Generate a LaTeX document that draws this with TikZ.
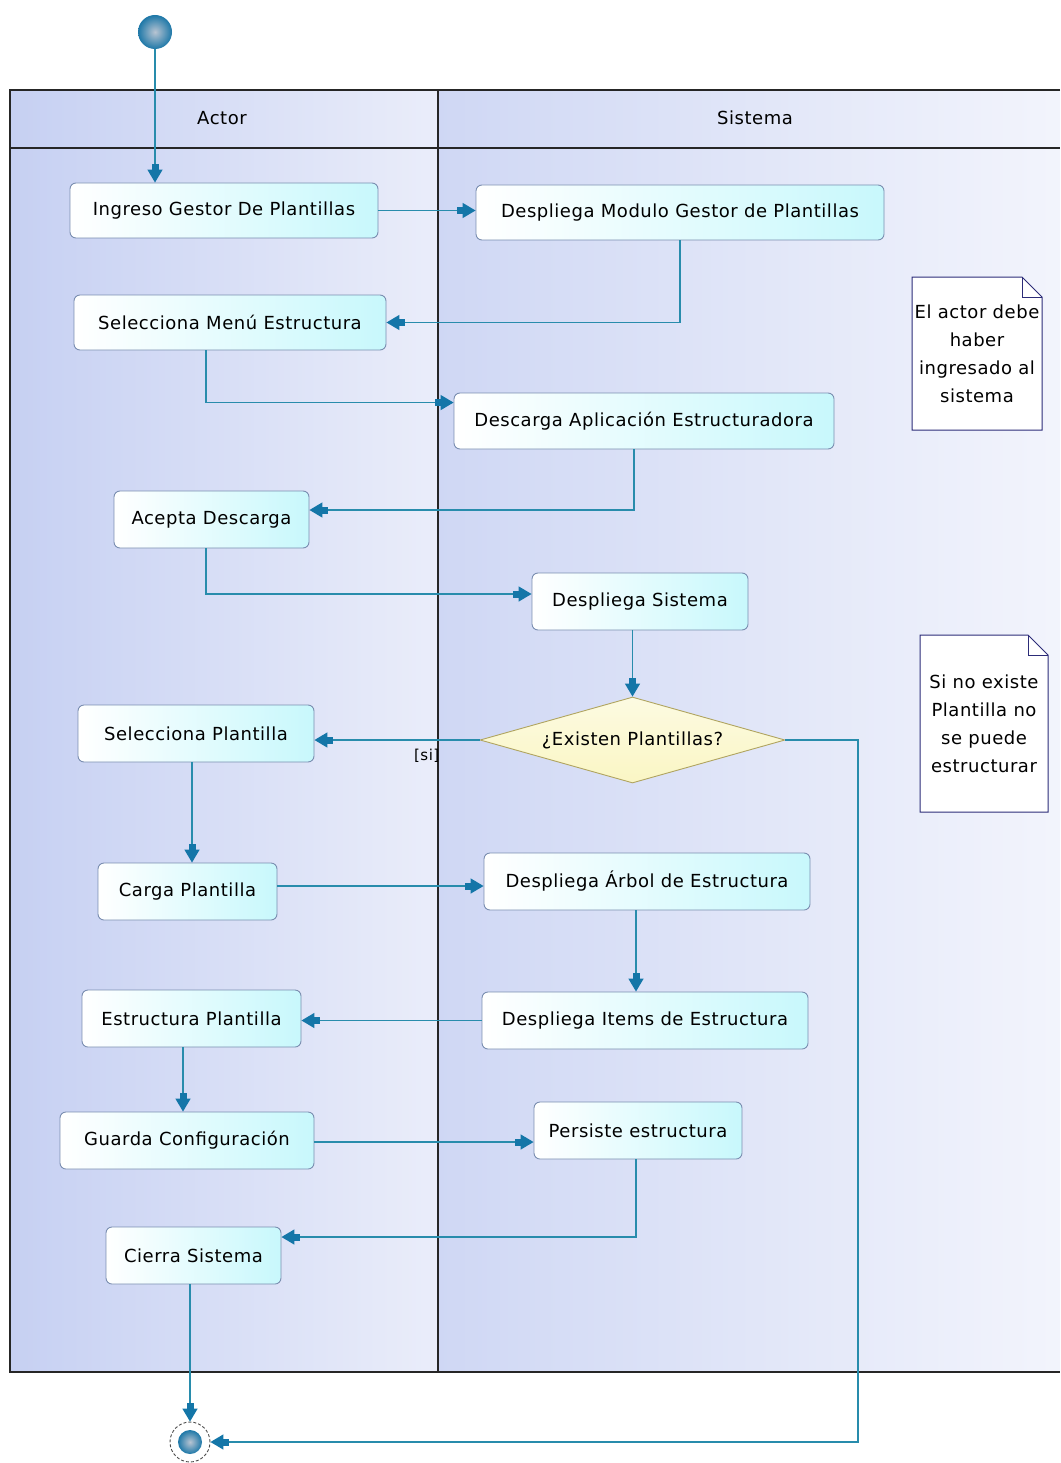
\documentclass[tikz,border=0pt]{standalone}
\usepackage{fontspec}
\setmainfont{DejaVu Sans}[LetterSpace=3]
\usetikzlibrary{arrows.meta,shapes.geometric,calc}

\definecolor{flowC}{RGB}{40,140,172}
\definecolor{tipC}{RGB}{20,118,168}
\definecolor{boxD}{RGB}{122,142,176}
\definecolor{boxR}{RGB}{200,248,252}
\definecolor{laneL}{RGB}{198,208,242}
\definecolor{laneR}{RGB}{234,237,250}
\definecolor{noteD}{RGB}{44,44,120}
\definecolor{decD}{RGB}{176,164,96}
\definecolor{decL}{RGB}{250,246,196}
\definecolor{ballIn}{RGB}{184,196,210}
\definecolor{ballOut}{RGB}{30,120,168}

\begin{document}
\begin{tikzpicture}[x=1pt,y=-1pt,
  font=\fontsize{18}{21}\selectfont,
  act/.style={draw=boxD, line width=0.9pt, rounded corners=6pt,
    left color=white, right color=boxR, inner sep=0pt},
  decision/.style={diamond, aspect=3.55, draw=decD, line width=0.9pt, inner sep=0pt,
    top color=decL!50!white, bottom color=decL},
  flow/.style={draw=flowC, line width=1.6pt,
    -{Rectangle[length=6pt,width=7pt,color=tipC]Triangle[length=13pt,width=15pt,color=tipC]}},
  notebox/.style={draw=noteD, line width=1pt, fill=white},
  notetext/.style={align=center, inner sep=0pt, font=\fontsize{18}{28}\selectfont},
  lane/.style={line width=1.5pt, draw=black!85},
  ballstyle/.style={circle, inner sep=0pt, shading=radial, inner color=ballIn, outer color=ballOut},
]
\useasboundingbox (0,0) rectangle (1060,1463);

% swimlanes
\shade[left color=laneL, right color=laneR] (10,90) rectangle (438,1372);
\shade[left color=laneL!75!laneR, right color=laneR!60!white] (438,90) rectangle (1060,1372);
\draw[lane] (1060,90) -- (10,90) -- (10,1372) -- (1060,1372);
\draw[lane] (10,148) -- (1060,148);
\draw[lane] (438,90) -- (438,1372);
\node (hactor) at (222,118) {Actor};
\node (hsist) at (755,118) {Sistema};

% start and end
\node[ballstyle, minimum size=34pt] (start) at (155,32) {};
\node[circle, draw=black!70, densely dashed, line width=0.9pt, fill=white, minimum size=40pt, inner sep=0pt] (endn) at (190,1442) {};
\node[ballstyle, minimum size=24pt] (endin) at (190,1442) {};

% actions
\node[act, minimum width=308pt, minimum height=55pt] (ingreso)  at (224,210.5)   {Ingreso Gestor De Plantillas};
\node[act, minimum width=408pt, minimum height=55pt] (modulo)   at (680,212.5)   {Despliega Modulo Gestor de Plantillas};
\node[act, minimum width=312pt, minimum height=55pt] (menu)     at (230,322.5)   {Selecciona Menú Estructura};
\node[act, minimum width=380pt, minimum height=56pt] (descarga) at (644,421)     {Descarga Aplicación Estructuradora};
\node[act, minimum width=195pt, minimum height=57pt] (acepta)   at (211.5,519.5) {Acepta Descarga};
\node[act, minimum width=216pt, minimum height=57pt] (sistema)  at (640,601.5)   {Despliega Sistema};
\node[decision, minimum width=305pt, minimum height=86pt] (dec) at (632.5,740)  {¿Existen Plantillas?};
\node[act, minimum width=236pt, minimum height=57pt] (selpl)    at (196,733.5)   {Selecciona Plantilla};
\node[act, minimum width=179pt, minimum height=57pt] (carga)    at (187.5,891.5) {Carga Plantilla};
\node[act, minimum width=326pt, minimum height=57pt] (arbol)    at (647,881.5)   {Despliega Árbol de Estructura};
\node[act, minimum width=326pt, minimum height=57pt] (items)    at (645,1020.5)  {Despliega Items de Estructura};
\node[act, minimum width=219pt, minimum height=57pt] (estr)     at (191.5,1018.5){Estructura Plantilla};
\node[act, minimum width=254pt, minimum height=57pt] (guarda)   at (187,1140.5)  {Guarda Configuración};
\node[act, minimum width=208pt, minimum height=57pt] (persiste) at (638,1130.5)  {Persiste estructura};
\node[act, minimum width=175pt, minimum height=57pt] (cierra)   at (193.5,1255.5){Cierra Sistema};

% notes with folded corner
\path (977,353.5) coordinate (n1c) (984,723.5) coordinate (n2c);
\draw[notebox] (912,277) -- (1022,277) -- (1042,297) -- (1042,430) -- (912,430) -- cycle;
\draw[notebox, fill=none] (1022,277) -- (1022,297) -- (1042,297);
\node[notetext] (note1) at (n1c) {El actor debe\\haber\\ingresado al\\sistema};
\draw[notebox] (920,635) -- (1028,635) -- (1048,655) -- (1048,812) -- (920,812) -- cycle;
\draw[notebox, fill=none] (1028,635) -- (1028,655) -- (1048,655);
\node[notetext] (note2) at (n2c) {Si no existe\\Plantilla no\\se puede\\estructurar};

% control flow
\coordinate (rt) at (858,740);
\draw[flow] (start) -- (start |- ingreso.north);
\draw[flow] (ingreso.east) -- (ingreso.east -| modulo.west);
\draw[flow] (modulo.south) |- (menu.east);
\draw[flow] ($(menu.south)+(-24,0)$) |- ($(descarga.north west)+(0,10)$);
\draw[flow] ($(descarga.south)+(-10,0)$) |- ($(acepta.east)+(0,-9.5)$);
\draw[flow] ($(acepta.south)+(-5.5,0)$) |- ($(sistema.west)+(0,-7.5)$);
\draw[flow] (sistema.south -| dec.north) -- (dec.north);
\draw[flow] (dec.west) -- node[pos=0.32, below=5pt, font=\fontsize{15}{17}\selectfont] (si) {[si]} (dec.west -| selpl.east);
\draw[flow] (dec.east) -| (rt |- endn) -- (endn);
\draw[flow] ($(selpl.south)+(-4,0)$) coordinate (t1) -- (t1 |- carga.north);
\draw[flow] ($(carga.east)+(0,-5.5)$) coordinate (t2) -- (t2 -| arbol.west);
\draw[flow] ($(arbol.south)+(-11,0)$) coordinate (t3) -- (t3 |- items.north);
\draw[flow] (items.west) -- (items.west -| estr.east);
\draw[flow] ($(estr.south)+(-8.5,0)$) coordinate (t4) -- (t4 |- guarda.north);
\draw[flow] ($(guarda.east)+(0,1.5)$) coordinate (t5) -- (t5 -| persiste.west);
\draw[flow] ($(persiste.south)+(-2,0)$) |- ($(cierra.east)+(0,-18.5)$);
\draw[flow] ($(cierra.south)+(-3.5,0)$) coordinate (t6) -- (t6 |- endn.north);
\end{tikzpicture}
\end{document}
